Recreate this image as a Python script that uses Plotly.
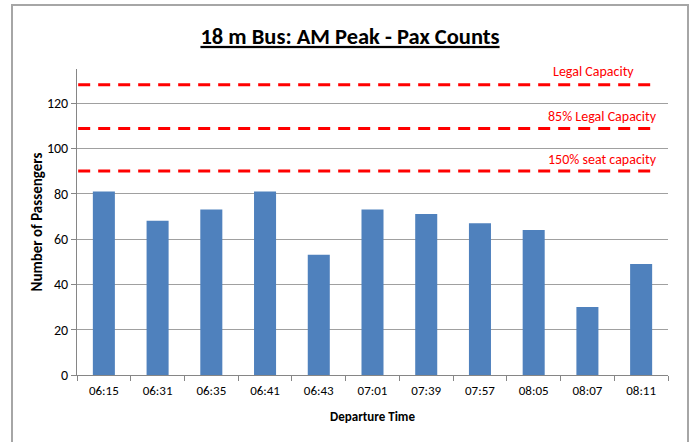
import plotly.graph_objects as go

# Departure times and passenger counts
departures = ["06:15", "06:31", "06:35", "06:41", "06:43", "07:01",
              "07:39", "07:57", "08:05", "08:07", "08:11"]
passengers = [81, 68, 73, 81, 53, 73, 71, 67, 64, 30, 49]

# Capacity reference levels
capacity_labels = ["Legal Capacity", "85% Legal Capacity", "150% seat capacity"]
capacity_values = [128, 108.8, 90]

FONT = "Carlito, Liberation Sans Narrow, Noto Sans, sans-serif"
W, H = 692, 442
L, R, T, B = 77, 24, 69, 67

fig = go.Figure()
fig.add_trace(go.Bar(
    x=departures, y=passengers,
    marker=dict(color="#4F81BD", line=dict(width=0)),
    hoverinfo="x+y",
))

shapes = []
annotations = []
for lbl, val in zip(capacity_labels, capacity_values):
    shapes.append(dict(
        type="line", xref="x domain", yref="y",
        x0=0.002, x1=0.983, y0=val, y1=val,
        line=dict(color="#FF0000", width=3, dash="12px,8px"),
    ))
    annotations.append(dict(
        xref="x domain", yref="y", x=0.985 if lbl != "Legal Capacity" else 0.946,
        y=val, yshift=13 if lbl == "Legal Capacity" else 12,
        xanchor="right", yanchor="middle",
        text=lbl, showarrow=False,
        font=dict(family=FONT, size=14, color="#FF0000"),
    ))

# Outer chart frame
pw = W - L - R
ph = H - T - B
shapes.append(dict(
    type="rect", xref="paper", yref="paper", layer="below",
    x0=(12 - L) / pw, x1=(688 - L) / pw,
    y0=-(H + 20 - (H - B)) / ph, y1=((H - B) - 5) / ph,
    line=dict(color="#A6A6A6", width=2),
))

fig.update_layout(
    width=W, height=H,
    margin=dict(l=L, r=R, t=T, b=B),
    paper_bgcolor="white", plot_bgcolor="white",
    showlegend=False,
    bargap=0.59,
    font=dict(family=FONT, size=13, color="#000000"),
    title=dict(
        text="<u>18 m Bus: AM Peak - Pax Counts</u>",
        x=350 / W, xref="container", xanchor="center",
        y=1 - 36 / H, yanchor="middle",
        font=dict(family=FONT, size=22.5, color="#000000", weight="bold"),
    ),
    xaxis=dict(
        type="category",
        showline=True, linecolor="#868686", linewidth=1,
        ticks="outside", tickson="boundaries", ticklen=5, tickcolor="#868686",
        ticklabelstandoff=3,
        showgrid=False,
        tickfont=dict(family=FONT, size=13, color="#000000"),
        title=dict(text="<b>Departure Time</b>", standoff=15,
                   font=dict(family=FONT, size=13, color="#000000")),
    ),
    yaxis=dict(
        range=[0, 135], tickvals=[0, 20, 40, 60, 80, 100, 120],
        showline=True, linecolor="#868686", linewidth=1,
        ticks="outside", ticklen=5, tickcolor="#868686",
        showgrid=True, gridcolor="#A0A0A0", gridwidth=1,
        zeroline=False,
        tickfont=dict(family=FONT, size=14, color="#000000"),
        title=dict(text="<b>Number of Passengers</b>", standoff=0,
                   font=dict(family=FONT, size=15, color="#000000")),
    ),
    shapes=shapes,
    annotations=annotations,
)

fig.write_html("out.html")
